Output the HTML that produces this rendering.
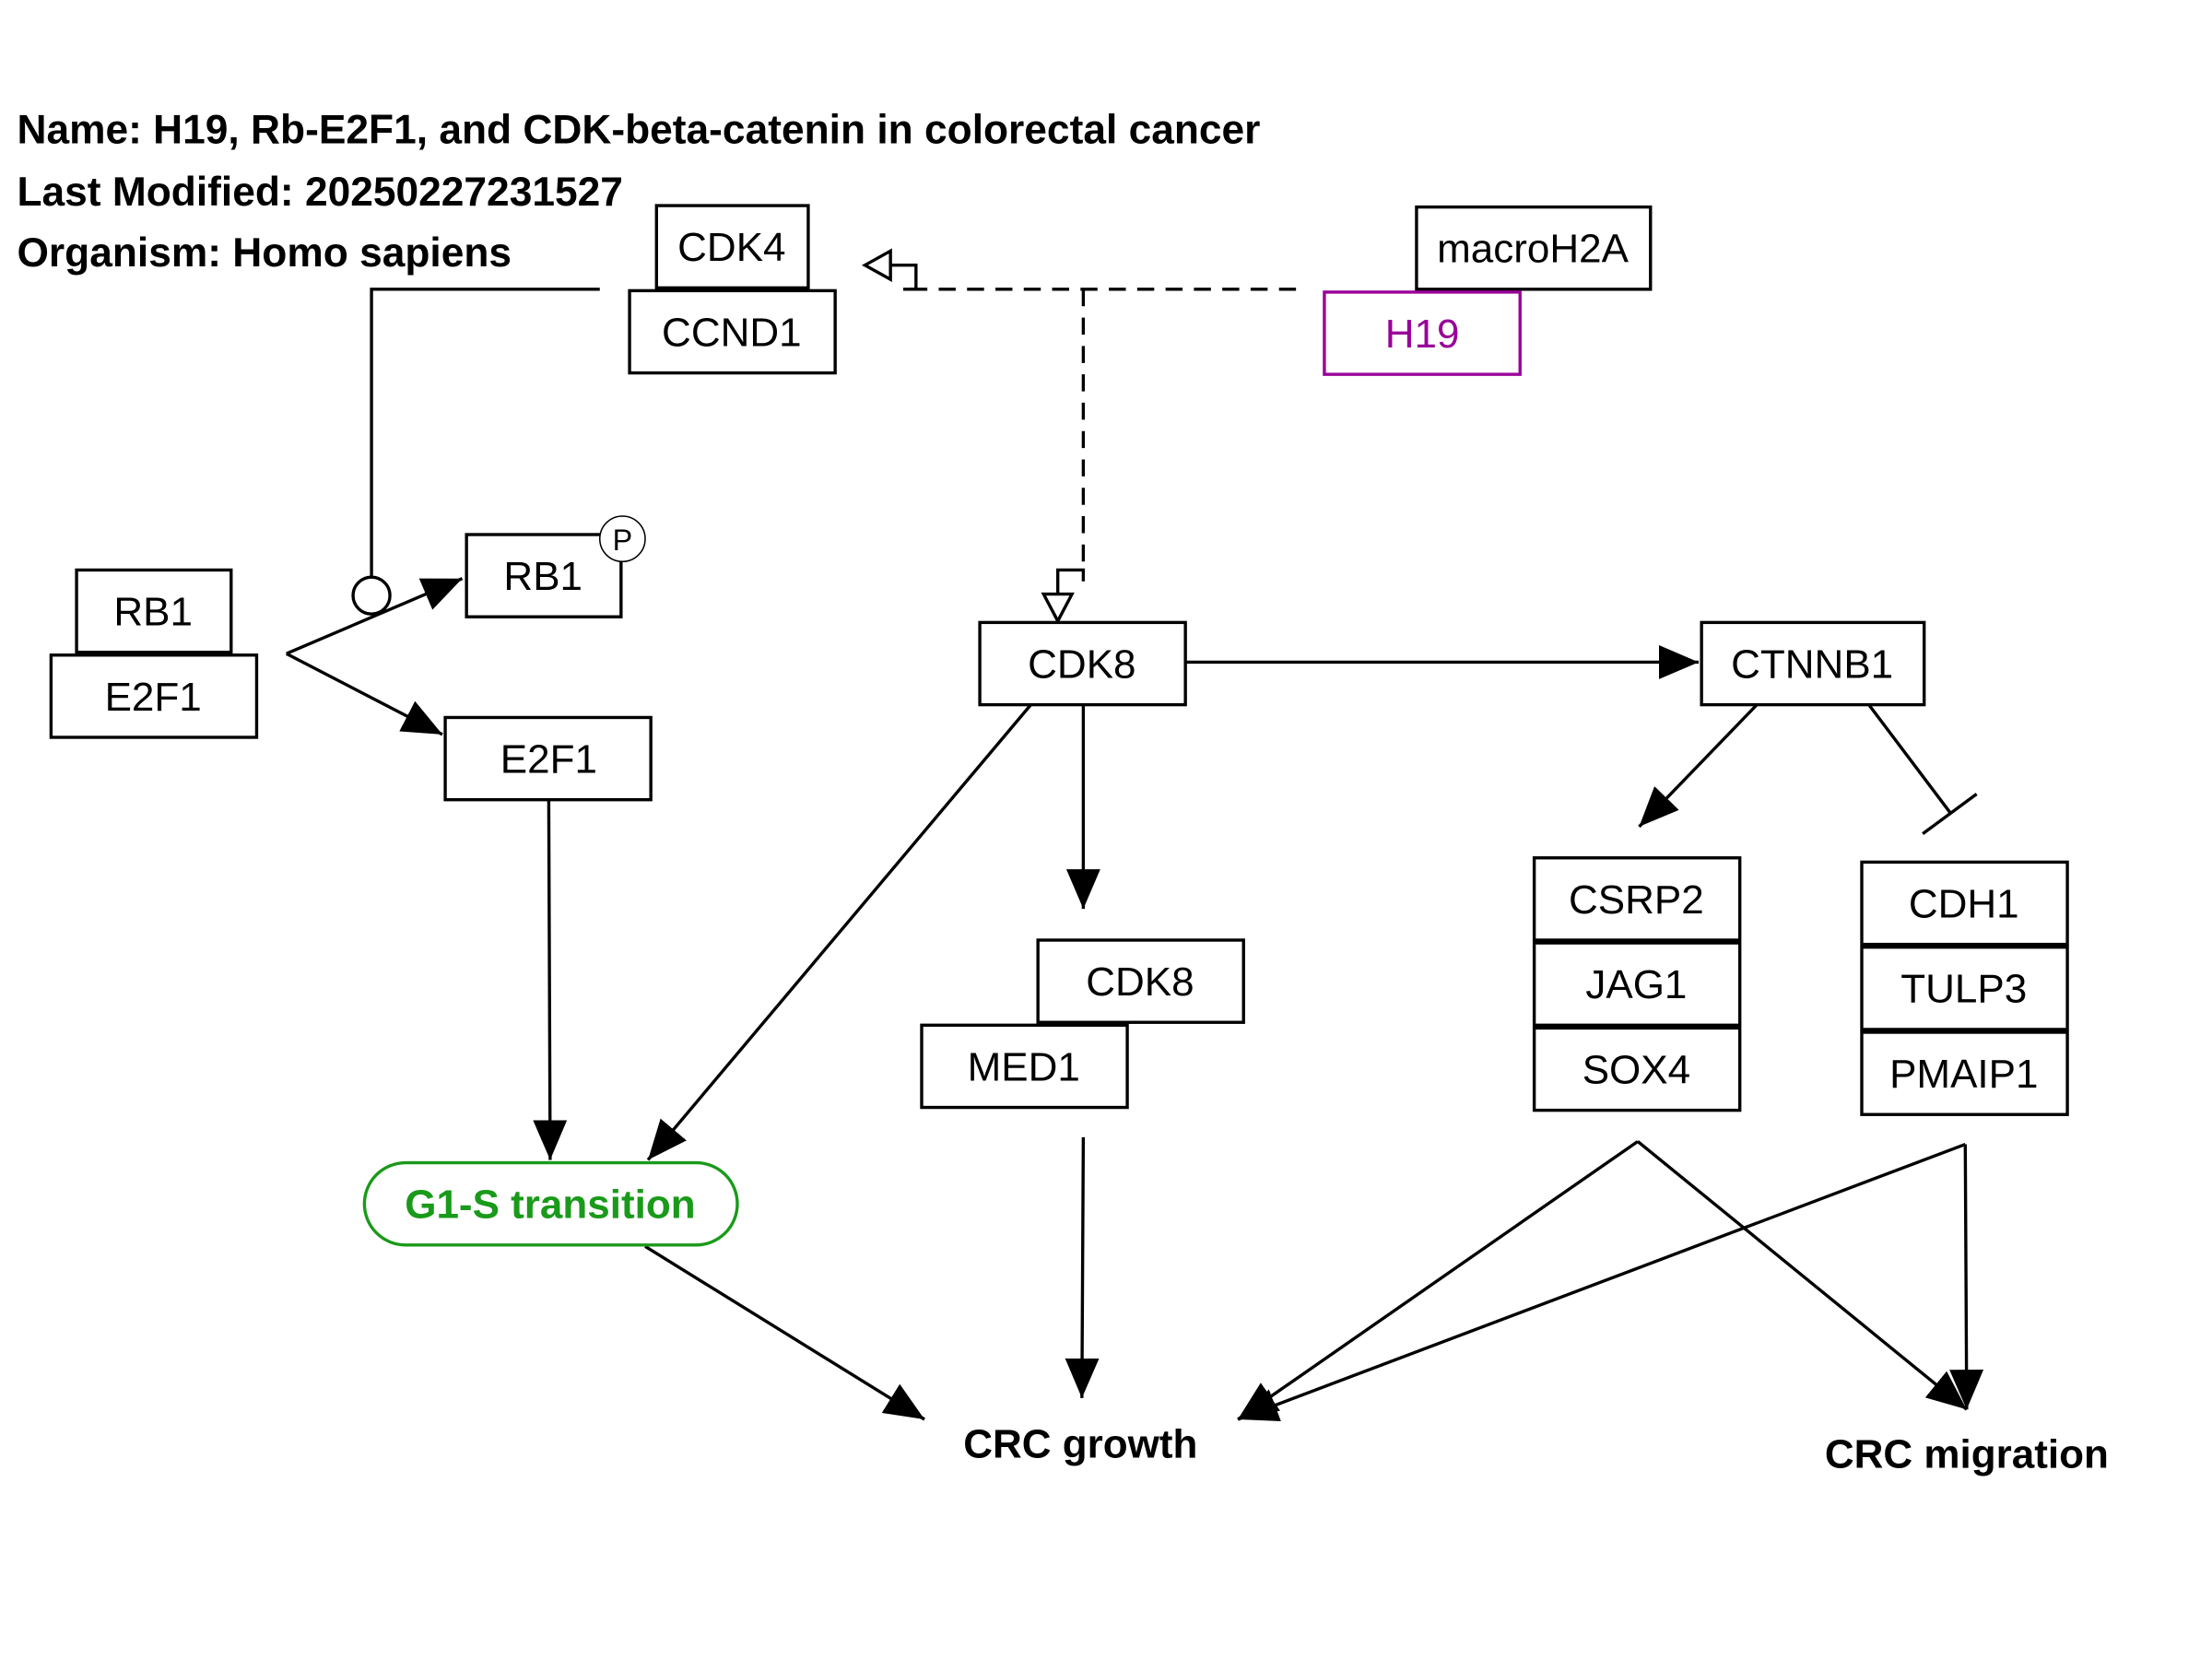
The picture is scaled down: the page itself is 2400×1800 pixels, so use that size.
<!DOCTYPE html>
<html><head><meta charset="utf-8"><style>
html,body{margin:0;padding:0;background:#fff;}
svg{display:block;}
text{font-family:"Liberation Sans",sans-serif;}
</style></head><body>
<svg width="2400" height="1800" viewBox="0 0 1560 1170" xmlns="http://www.w3.org/2000/svg">
<defs>
<marker id="a" markerUnits="userSpaceOnUse" markerWidth="30" markerHeight="24" refX="28" refY="12" orient="auto">
<path d="M0,0 L28,12 L0,24 Z" fill="#000"/>
</marker>
</defs>
<rect width="1560" height="1170" fill="#fff"/>
<g font-weight="bold" font-size="28.8" fill="#000">
<text x="12" y="101">Name: H19, Rb-E2F1, and CDK-beta-catenin in colorectal cancer</text>
<text x="12" y="145">Last Modified: 20250227231527</text>
<text x="12" y="188">Organism: Homo sapiens</text>
</g>
<g stroke="#000" stroke-width="2.2" fill="none">
<path d="M423,204 H262 V407"/>
<circle cx="262" cy="420" r="13" fill="#fff"/>
<line x1="202" y1="461" x2="326" y2="408" marker-end="url(#a)"/>
<line x1="202" y1="461" x2="312" y2="518" marker-end="url(#a)"/>
<path d="M914,204 H637" stroke-dasharray="12,8"/>
<path d="M637,204 H646 V187 H628"/>
<path d="M628,177 L610,187 L628,197 Z" fill="#fff"/>
<path d="M764,204 V402" stroke-dasharray="12,8"/>
<path d="M764,410 V402 H746 V419"/>
<path d="M736,419 L746,438 L756,419 Z" fill="#fff"/>
<line x1="836" y1="467" x2="1198" y2="467" marker-end="url(#a)"/>
<line x1="727" y1="497" x2="457" y2="818" marker-end="url(#a)"/>
<line x1="764" y1="497" x2="764" y2="641" marker-end="url(#a)"/>
<line x1="387" y1="564" x2="388" y2="818" marker-end="url(#a)"/>
<line x1="1239" y1="497" x2="1156" y2="583" marker-end="url(#a)"/>
<line x1="1318" y1="497" x2="1376" y2="574"/>
<line x1="1356" y1="588" x2="1394" y2="560"/>
<line x1="455" y1="879" x2="652" y2="1001" marker-end="url(#a)"/>
<line x1="764" y1="802" x2="763" y2="986" marker-end="url(#a)"/>
<line x1="1155" y1="805" x2="873" y2="1001" marker-end="url(#a)"/>
<line x1="1155" y1="805" x2="1387" y2="994" marker-end="url(#a)"/>
<line x1="1386" y1="807" x2="873" y2="1001" marker-end="url(#a)"/>
<line x1="1386" y1="807" x2="1387" y2="994" marker-end="url(#a)"/>
</g>
<g stroke="#000" stroke-width="2.2" fill="#fff">
<rect x="463" y="145" width="107" height="58"/>
<rect x="444" y="205" width="145" height="58"/>
<rect x="999" y="146" width="165" height="58"/>
<rect x="934" y="206" width="138" height="58" stroke="#990099"/>
<rect x="329" y="377" width="109" height="58"/>
<circle cx="439" cy="380" r="16" stroke-width="1"/>
<rect x="54" y="402" width="109" height="58"/>
<rect x="36" y="462" width="145" height="58"/>
<rect x="314" y="506" width="145" height="58"/>
<rect x="691" y="439" width="145" height="58"/>
<rect x="1200" y="439" width="157" height="58"/>
<rect x="732" y="663" width="145" height="58"/>
<rect x="650" y="723" width="145" height="58"/>
<rect x="1082" y="605" width="145" height="58"/>
<rect x="1082" y="665" width="145" height="58"/>
<rect x="1082" y="725" width="145" height="58"/>
<rect x="1313" y="608" width="145" height="58"/>
<rect x="1313" y="668" width="145" height="58"/>
<rect x="1313" y="728" width="145" height="58"/>
<rect x="257" y="820" width="263" height="58" rx="29" stroke="#1a9a1a"/>
</g>
<g font-size="28.6" text-anchor="middle" fill="#000">
<text x="516" y="184">CDK4</text>
<text x="516" y="244">CCND1</text>
<text x="1081" y="185">macroH2A</text>
<text x="1003" y="245" fill="#990099">H19</text>
<text x="383" y="416">RB1</text>
<text x="439" y="388" font-size="21">P</text>
<text x="108" y="441">RB1</text>
<text x="108" y="501">E2F1</text>
<text x="387" y="545">E2F1</text>
<text x="763" y="478">CDK8</text>
<text x="1278" y="478">CTNNB1</text>
<text x="804" y="702">CDK8</text>
<text x="722" y="762">MED1</text>
<text x="1154" y="644">CSRP2</text>
<text x="1154" y="704">JAG1</text>
<text x="1154" y="764">SOX4</text>
<text x="1385" y="647">CDH1</text>
<text x="1385" y="707">TULP3</text>
<text x="1385" y="767">PMAIP1</text>
<text x="388" y="859" font-weight="bold" fill="#1a9a1a">G1-S transition</text>
<text x="762" y="1028" font-weight="bold">CRC growth</text>
<text x="1387" y="1035" font-weight="bold">CRC migration</text>
</g>
</svg>
</body></html>
